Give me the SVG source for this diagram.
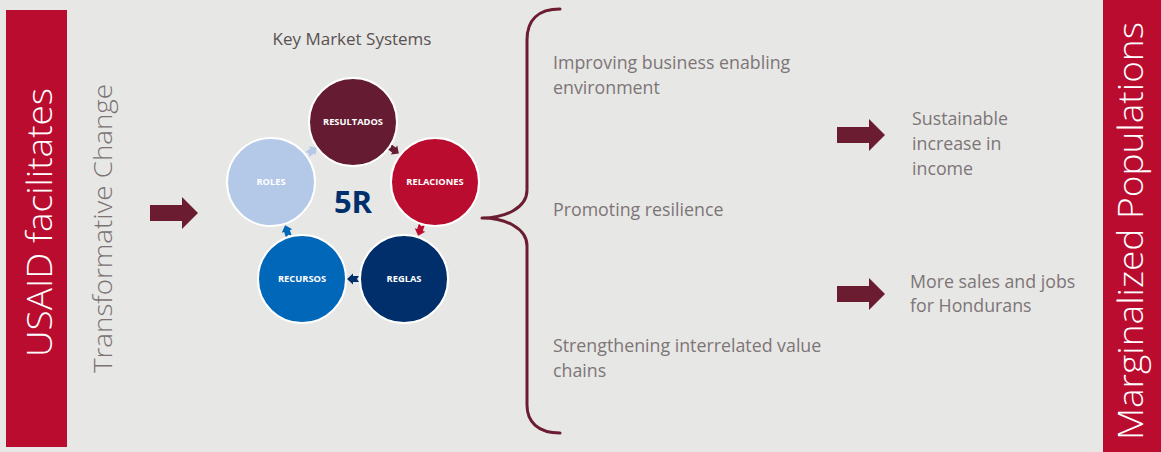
<svg xmlns="http://www.w3.org/2000/svg" width="1161" height="452" viewBox="0 0 1161 452">
  <style>
    .band { fill: #ba0c2f; }
    .band-text { font-family: "Open Sans", "Liberation Sans", sans-serif; font-weight: 300; fill: #ffffff; text-anchor: middle; }
    .side-text { font-family: "Open Sans", "Liberation Sans", sans-serif; font-weight: 300; fill: #7a7274; text-anchor: middle; }
    .body-text { font-family: "Open Sans", "Liberation Sans", sans-serif; font-size: 17.8px; fill: #7d7577; }
    .title { font-family: "Open Sans", "Liberation Sans", sans-serif; font-size: 17px; fill: #595152; text-anchor: middle; }
    .ring { stroke: #ffffff; stroke-width: 2; }
    .ring-label { font-family: "Open Sans", "Liberation Sans", sans-serif; font-size: 9.3px; font-weight: 700; fill: #ffffff; text-anchor: middle; }
    .block-arrow { fill: #6b1c30; }
    .brace { fill: none; stroke: #6b1c30; stroke-width: 3; stroke-linecap: round; stroke-linejoin: round; }
  </style>
  <defs>
    <!-- wide block arrow, 48 x 32, pointing right, origin at tail centre -->
    <polygon id="bigArrow" points="0,-8 32,-8 32,-16 48,0 32,16 32,8 0,8"/>
    <!-- small cycle arrow, pointing right, centred on origin -->
    <polygon id="cycleArrow" points="-6,-3 0,-3 0,-5.5 6,0 0,5.5 0,3 -6,3 -4,0"/>
  </defs>

  <!-- background -->
  <rect x="0" y="0" width="1161" height="452" fill="#e7e7e5"/>

  <!-- left band -->
  <g id="usaid">
    <rect class="band" x="6" y="10" width="61" height="437"/>
    <text class="band-text" font-size="34" transform="translate(52,222.5) rotate(-90)" textLength="269" lengthAdjust="spacingAndGlyphs">USAID facilitates</text>
  </g>

  <g id="transformative-change">
    <text class="side-text" font-size="25" transform="translate(112,228.5) rotate(-90)" textLength="289" lengthAdjust="spacingAndGlyphs">Transformative Change</text>
  </g>

  <!-- right band -->
  <g id="marginalized">
    <rect class="band" x="1103" y="0" width="58" height="452"/>
    <text class="band-text" font-size="34" transform="translate(1143,231) rotate(-90)" textLength="418" lengthAdjust="spacingAndGlyphs">Marginalized Populations</text>
  </g>

  <!-- 5R cycle -->
  <g id="key-market-systems">
    <text class="title" x="352" y="45">Key Market Systems</text>
    <text x="353" y="213" font-family="Open Sans, Liberation Sans, sans-serif" font-size="31" font-weight="700" fill="#002f6c" text-anchor="middle">5R</text>
  </g>

  <g id="cycle-arrows">
    <use href="#cycleArrow" fill="#651c32" transform="translate(394,150) rotate(36)"/>
    <use href="#cycleArrow" fill="#ba0c2f" transform="translate(420,230) rotate(108)"/>
    <use href="#cycleArrow" fill="#002f6c" transform="translate(353,279) rotate(180)"/>
    <use href="#cycleArrow" fill="#0067b9" transform="translate(287,231) rotate(252)"/>
    <use href="#cycleArrow" fill="#b4c8e8" transform="translate(312,151) rotate(324)"/>
  </g>

  <g id="resultados">
    <circle class="ring" cx="353" cy="122" r="44" fill="#651c32"/>
    <text class="ring-label" x="353" y="125">RESULTADOS</text>
  </g>
  <g id="relaciones">
    <circle class="ring" cx="435" cy="182" r="44" fill="#ba0c2f"/>
    <text class="ring-label" x="435" y="185">RELACIONES</text>
  </g>
  <g id="reglas">
    <circle class="ring" cx="404" cy="279" r="44" fill="#002f6c"/>
    <text class="ring-label" x="404" y="282">REGLAS</text>
  </g>
  <g id="recursos">
    <circle class="ring" cx="302" cy="279" r="44" fill="#0067b9"/>
    <text class="ring-label" x="302" y="282">RECURSOS</text>
  </g>
  <g id="roles">
    <circle class="ring" cx="271" cy="182" r="44" fill="#b4c8e8"/>
    <text class="ring-label" x="271" y="185">ROLES</text>
  </g>

  <!-- connectors -->
  <g id="connectors">
    <use href="#bigArrow" class="block-arrow" transform="translate(150,213)"/>
    <path class="brace" d="M560,9 C538,9 527,20 527,40 L527,190 C527,208 505,218 482,218 C505,218 527,228 527,246 L527,405 C527,422 538,433 560,433"/>
    <use href="#bigArrow" class="block-arrow" transform="translate(837,135)"/>
    <use href="#bigArrow" class="block-arrow" transform="translate(837,294)"/>
  </g>

  <!-- activities -->
  <g id="improving">
    <text class="body-text" x="553" y="69">Improving business enabling</text>
    <text class="body-text" x="553" y="94">environment</text>
  </g>
  <g id="promoting">
    <text class="body-text" x="553" y="216">Promoting resilience</text>
  </g>
  <g id="strengthening">
    <text class="body-text" x="553" y="352">Strengthening interrelated value</text>
    <text class="body-text" x="553" y="377">chains</text>
  </g>

  <!-- outcomes -->
  <g id="sustainable-income">
    <text class="body-text" x="912" y="125">Sustainable</text>
    <text class="body-text" x="912" y="150">increase in</text>
    <text class="body-text" x="912" y="175">income</text>
  </g>
  <g id="sales-jobs">
    <text class="body-text" x="910" y="288">More sales and jobs</text>
    <text class="body-text" x="910" y="312">for Hondurans</text>
  </g>
</svg>
